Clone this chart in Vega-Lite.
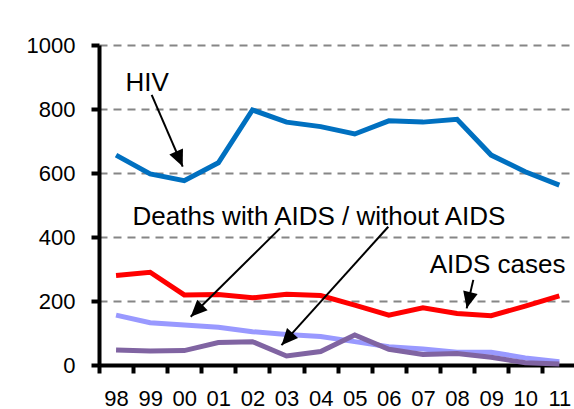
{
  "$schema": "https://vega.github.io/schema/vega-lite/v6.json",
  "width": 475,
  "height": 320,
  "autosize": {"type": "none"},
  "padding": {"left": 99, "top": 45, "right": 0, "bottom": 44},
  "background": "white",
  "config": {"view": {"stroke": null}, "font": "Liberation Sans", "axis": {"labelOverlap": false}},
  "datasets": {
    "series": [
      {"series": "HIV", "year": 1998, "value": 656},
      {"series": "HIV", "year": 1999, "value": 597},
      {"series": "HIV", "year": 2000, "value": 576},
      {"series": "HIV", "year": 2001, "value": 632},
      {"series": "HIV", "year": 2002, "value": 797},
      {"series": "HIV", "year": 2003, "value": 759},
      {"series": "HIV", "year": 2004, "value": 745},
      {"series": "HIV", "year": 2005, "value": 722},
      {"series": "HIV", "year": 2006, "value": 763},
      {"series": "HIV", "year": 2007, "value": 759},
      {"series": "HIV", "year": 2008, "value": 768},
      {"series": "HIV", "year": 2009, "value": 656},
      {"series": "HIV", "year": 2010, "value": 604},
      {"series": "HIV", "year": 2011, "value": 562},
      {"series": "AIDS cases", "year": 1998, "value": 280},
      {"series": "AIDS cases", "year": 1999, "value": 290},
      {"series": "AIDS cases", "year": 2000, "value": 219},
      {"series": "AIDS cases", "year": 2001, "value": 220},
      {"series": "AIDS cases", "year": 2002, "value": 210},
      {"series": "AIDS cases", "year": 2003, "value": 221},
      {"series": "AIDS cases", "year": 2004, "value": 217},
      {"series": "AIDS cases", "year": 2005, "value": 187},
      {"series": "AIDS cases", "year": 2006, "value": 156},
      {"series": "AIDS cases", "year": 2007, "value": 179},
      {"series": "AIDS cases", "year": 2008, "value": 161},
      {"series": "AIDS cases", "year": 2009, "value": 154},
      {"series": "AIDS cases", "year": 2010, "value": 184},
      {"series": "AIDS cases", "year": 2011, "value": 216},
      {"series": "Deaths with AIDS", "year": 1998, "value": 156},
      {"series": "Deaths with AIDS", "year": 1999, "value": 132},
      {"series": "Deaths with AIDS", "year": 2000, "value": 125},
      {"series": "Deaths with AIDS", "year": 2001, "value": 118},
      {"series": "Deaths with AIDS", "year": 2002, "value": 104},
      {"series": "Deaths with AIDS", "year": 2003, "value": 95},
      {"series": "Deaths with AIDS", "year": 2004, "value": 89},
      {"series": "Deaths with AIDS", "year": 2005, "value": 73},
      {"series": "Deaths with AIDS", "year": 2006, "value": 57},
      {"series": "Deaths with AIDS", "year": 2007, "value": 50},
      {"series": "Deaths with AIDS", "year": 2008, "value": 40},
      {"series": "Deaths with AIDS", "year": 2009, "value": 40},
      {"series": "Deaths with AIDS", "year": 2010, "value": 22},
      {"series": "Deaths with AIDS", "year": 2011, "value": 10},
      {"series": "Deaths without AIDS", "year": 1998, "value": 47},
      {"series": "Deaths without AIDS", "year": 1999, "value": 44},
      {"series": "Deaths without AIDS", "year": 2000, "value": 45},
      {"series": "Deaths without AIDS", "year": 2001, "value": 70},
      {"series": "Deaths without AIDS", "year": 2002, "value": 73},
      {"series": "Deaths without AIDS", "year": 2003, "value": 28},
      {"series": "Deaths without AIDS", "year": 2004, "value": 42},
      {"series": "Deaths without AIDS", "year": 2005, "value": 94},
      {"series": "Deaths without AIDS", "year": 2006, "value": 49},
      {"series": "Deaths without AIDS", "year": 2007, "value": 33},
      {"series": "Deaths without AIDS", "year": 2008, "value": 36},
      {"series": "Deaths without AIDS", "year": 2009, "value": 24},
      {"series": "Deaths without AIDS", "year": 2010, "value": 7},
      {"series": "Deaths without AIDS", "year": 2011, "value": 3}
    ],
    "labels": [
      {"text": "HIV", "x": 1998.91, "y": 881},
      {"text": "Deaths with AIDS / without AIDS", "x": 2003.95, "y": 463},
      {"text": "AIDS cases", "x": 2009.19, "y": 312}
    ],
    "arrows": [
      {"x1": 1999.045, "y1": 844, "x2": 1999.955, "y2": 620},
      {"x1": 2002.808, "y1": 427, "x2": 2000.189, "y2": 151},
      {"x1": 2005.984, "y1": 432, "x2": 2002.852, "y2": 62},
      {"x1": 2008.477, "y1": 266, "x2": 2008.283, "y2": 177}
    ]
  },
  "layer": [
    {
      "data": {"name": "series"},
      "mark": {"type": "line", "strokeWidth": 5},
      "encoding": {
        "x": {
          "field": "year", "type": "quantitative",
          "scale": {"domain": [1997.5, 2011.43], "nice": false, "zero": false},
          "axis": {
            "values": [1998, 1999, 2000, 2001, 2002, 2003, 2004, 2005, 2006, 2007, 2008, 2009, 2010, 2011],
            "tickCount": 30,
            "format": "d",
            "labelExpr": "substring(datum.label, 2)",
            "title": null, "grid": false,
            "domainColor": "black", "domainWidth": 4,
            "tickColor": "black", "tickWidth": 4, "tickSize": 8,
            "tickOffset": -17.05, "labelOffset": 17.05,
            "labelFontSize": 22, "labelColor": "black", "labelPadding": 15,
            "labelFont": "Liberation Sans", "labelFlush": false,
            "labelOverlap": false, "labelBound": false
          }
        },
        "y": {
          "field": "value", "type": "quantitative",
          "scale": {"domain": [0, 1000], "nice": false},
          "axis": {
            "values": [0, 200, 400, 600, 800, 1000],
            "tickCount": 10,
            "format": "d",
            "title": null, "grid": true,
            "gridColor": "#868686", "gridDash": [8, 6], "gridWidth": 2,
            "domainColor": "black", "domainWidth": 4,
            "tickColor": "black", "tickWidth": 4, "tickSize": 8,
            "labelFontSize": 22, "labelColor": "black", "labelPadding": 16,
            "labelFont": "Liberation Sans", "labelFlush": false, "labelOverlap": false
          }
        },
        "color": {
          "field": "series", "type": "nominal",
          "scale": {
            "domain": ["HIV", "AIDS cases", "Deaths with AIDS", "Deaths without AIDS"],
            "range": ["#0070C0", "#FF0000", "#9999FF", "#8064A2"]
          },
          "legend": null
        }
      }
    },
    {
      "data": {"name": "arrows"},
      "mark": {"type": "rule", "color": "black", "strokeWidth": 2},
      "encoding": {
        "x": {"field": "x1", "type": "quantitative"},
        "y": {"field": "y1", "type": "quantitative"},
        "x2": {"field": "x2"},
        "y2": {"field": "y2"}
      }
    },
    {
      "data": {"name": "arrows"},
      "transform": [
        {"calculate": "atan2((datum.x2 - datum.x1) * 34.1, (datum.y2 - datum.y1) * 0.32) * 180 / PI", "as": "angle"}
      ],
      "mark": {"type": "point", "shape": "M0,0L-0.45,1L0.45,1Z", "filled": true, "color": "black", "opacity": 1, "size": 1089, "strokeWidth": 0},
      "encoding": {
        "x": {"field": "x2", "type": "quantitative"},
        "y": {"field": "y2", "type": "quantitative"},
        "angle": {"field": "angle", "type": "quantitative", "scale": null}
      }
    },
    {
      "data": {"name": "labels"},
      "mark": {"type": "text", "fontSize": 26, "font": "Liberation Sans", "color": "black", "align": "center", "baseline": "middle"},
      "encoding": {
        "x": {"field": "x", "type": "quantitative"},
        "y": {"field": "y", "type": "quantitative"},
        "text": {"field": "text"}
      }
    }
  ]
}
